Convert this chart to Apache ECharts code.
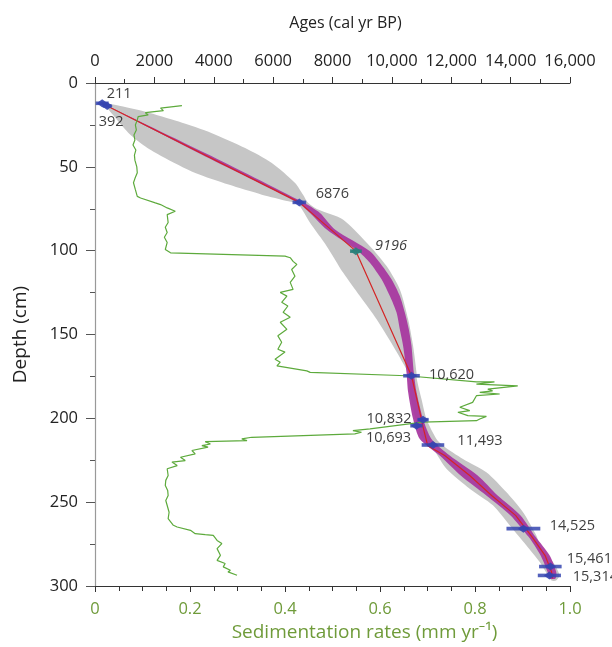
<!DOCTYPE html>
<html><head><meta charset="utf-8">
<script src="https://cdn.jsdelivr.net/npm/echarts@6/dist/echarts.min.js"></script>
<style>html,body{margin:0;padding:0;background:#fff}#c{width:612px;height:647px}</style>
</head><body><div id="c"></div>
<script>
// ---- Data ----
const ageTicks = [0, 2000, 4000, 6000, 8000, 10000, 12000, 14000, 16000];
const depthTicks = [0, 50, 100, 150, 200, 250, 300];
const rateTicks = [0, 0.2, 0.4, 0.6, 0.8, 1.0];

// dated levels (age position, depth, error, label)
const dateAges   = [242, 410, 6883, 8789, 10661, 11050, 10829, 11384, 14430, 15338, 15305];
const dateDepths = [12.1, 13.7, 71.2, 100.3, 174.6, 200.8, 204.4, 215.9, 265.8, 288.4, 293.7];
const dateErrors = [220, 150, 230, 200, 280, 190, 210, 380, 570, 380, 390];
const dateLabels = ['211', '392', '6876', '9196', '10,620', '10,832', '10,693', '11,493', '14,525', '15,461', '15,314'];

// confidence envelope (grey): younger and older bounds
const greyYoungAge   = [185, 464, 1136, 1697, 2259, 3378, 4497, 5620, 6514, 6850, 7243, 7804, 8362, 8923, 9485, 10043, 10493, 10604, 10604, 10772, 10940, 11051, 11387, 11838, 12621, 13404, 13965, 14526, 14973, 15252, 15377];
const greyYoungDepth = [11.3, 16.1, 29.9, 37.9, 43.8, 53.7, 60.6, 66.6, 70.6, 72.5, 83.4, 97.3, 113.2, 127.1, 140.9, 156.8, 170.7, 174.6, 184.3, 198.6, 208.1, 212.3, 218.2, 230.1, 242.0, 251.9, 263.8, 275.7, 285.6, 293.6, 296.7];
const greyOldAge     = [185, 857, 1697, 2817, 3939, 5058, 5956, 6739, 7008, 7176, 7512, 8362, 9260, 9821, 10268, 10547, 10715, 10829, 10839, 10997, 11165, 11501, 11723, 12395, 13182, 13854, 14412, 14862, 15084, 15420, 15645, 15534];
const greyOldDepth   = [11.3, 13.7, 17.1, 23.0, 29.9, 38.8, 47.7, 59.6, 66.6, 71.4, 75.5, 81.5, 97.3, 109.2, 123.1, 140.9, 156.8, 172.6, 176.6, 188.5, 200.4, 212.3, 216.3, 224.2, 232.1, 244.0, 255.9, 269.8, 279.6, 285.6, 293.6, 296.7];

// model band (magenta)
const bandDepth    = [11.9, 42.2, 71.0, 77.5, 87.4, 100.3, 107.2, 117.1, 127.1, 136.9, 146.9, 156.8, 172.6, 184.3, 200.4, 212.3, 222.2, 234.1, 246.0, 257.9, 270.7, 281.7, 291.5, 295.5];
const bandYoungAge = [218, 3540, 6790, 7243, 7804, 8867, 9260, 9653, 9932, 10157, 10268, 10379, 10493, 10547, 10715, 10940, 11612, 12318, 13182, 13998, 14604, 15007, 15242, 15310];
const bandOldAge   = [218, 3760, 6990, 7579, 8083, 9260, 9596, 9989, 10268, 10436, 10570, 10661, 10739, 10829, 11051, 11333, 11948, 12889, 13562, 14334, 14839, 15310, 15534, 15511];

// age-depth line (red)
const modelAge   = [242, 410, 6883, 8789, 10661, 10940, 11041, 11209, 11780, 12621, 13360, 14167, 14721, 15158, 15377, 15411];
const modelDepth = [12.1, 13.7, 71.2, 100.3, 174.6, 196.2, 204.5, 216.4, 222.2, 234.1, 246.0, 257.9, 270.7, 281.7, 291.5, 295.5];

// sedimentation rates (green)
const rateDepth = [13.5,15.0,16.5,17.7,19.0,20.0,22.0,25,28,31,34,37,40,43,46,50,53.5,57,59.5,63.6,67.6,68.6,71.5,72.5,74.5,76.5,78.5,83.2,86,89.2,92,95.1,99.3,101.3,103.3,104.2,106.4,108.2,111.2,115.2,118.9,123.1,124.9,127.1,130.8,133.0,136.8,139.7,142.7,146.9,150.8,154.6,158.8,160.5,164.7,166.5,168.7,171.7,172.6,174.6,178.2,178.2,179.6,180.6,182.6,183.6,184.5,185.5,186.5,190.5,193.4,195.4,196.4,198.4,198.8,200.4,201.4,202.3,206.3,207.3,208.3,209.3,211.3,212.3,213.3,213.9,215.3,216.3,217.2,219.2,221.2,223.2,225.2,226.1,228.2,230.1,234.1,237,240.1,243,246.0,249,252.0,256,259.8,263.8,264.8,266.8,268.8,269.4,269.8,272.8,274.7,277.7,281.7,284.7,286.6,288.6,290.6,291.6,293.6];
const rateValue = [0.183,0.138,0.144,0.106,0.112,0.091,0.089,0.085,0.087,0.082,0.084,0.080,0.086,0.083,0.084,0.088,0.089,0.084,0.081,0.085,0.089,0.096,0.127,0.138,0.152,0.169,0.152,0.154,0.148,0.152,0.146,0.152,0.148,0.159,0.400,0.411,0.417,0.425,0.414,0.421,0.411,0.417,0.390,0.404,0.393,0.406,0.396,0.411,0.390,0.404,0.385,0.393,0.385,0.400,0.379,0.390,0.383,0.446,0.453,0.656,0.803,0.841,0.803,0.890,0.827,0.837,0.810,0.852,0.803,0.795,0.768,0.789,0.764,0.785,0.824,0.810,0.803,0.690,0.579,0.543,0.561,0.547,0.330,0.309,0.320,0.232,0.243,0.225,0.238,0.204,0.211,0.180,0.190,0.162,0.173,0.152,0.154,0.149,0.148,0.153,0.154,0.149,0.152,0.156,0.154,0.165,0.173,0.201,0.211,0.232,0.249,0.257,0.267,0.257,0.264,0.257,0.274,0.270,0.285,0.280,0.299];

// ---- Styling / layout (not data) ----
const FONT = '"Open Sans", "Noto Sans", sans-serif';
const GREEN_TEXT = '#6f9b3a';
const labelOffsets = [[17,-9],[4,16],[33,-9],[35,-5],[40,-1],[-34,-1],[-28,12],[47,-4],[49,-3],[39,-8],[46,1]];
const markerColors = dateLabels.map(l => l === '9196' ? '#2a7f7a' : '#3545b0');

function fmtAge(v) { return v >= 10000 ? (v/1000).toFixed(0) + ',000' : String(v); }

function polygonSeries(aA, dA, aB, dB, fill, z) {
  return {
    type: 'custom', coordinateSystem: 'cartesian2d', xAxisIndex: 0, yAxisIndex: 0,
    silent: true, z: z, clip: false,
    data: [[aA[0], dA[0]]],
    renderItem: function (params, api) {
      const pts = [];
      for (let i = 0; i < aA.length; i++) pts.push(api.coord([aA[i], dA[i]]));
      for (let i = aB.length - 1; i >= 0; i--) pts.push(api.coord([aB[i], dB[i]]));
      return { type: 'polygon', shape: { points: pts, smooth: 0.25 }, style: { fill: fill } };
    }
  };
}

const chart = echarts.init(document.getElementById('c'), null, { renderer: 'canvas' });
chart.setOption({
  animation: false,
  backgroundColor: '#fff',
  textStyle: { fontFamily: FONT },
  grid: { left: 95, right: 42, top: 83, bottom: 59.5 },
  xAxis: [
    {
      type: 'value', position: 'top', min: ageTicks[0], max: ageTicks[ageTicks.length-1], interval: 2000,
      axisLine: { show: true, onZero: false, lineStyle: { color: '#333', width: 1 } },
      axisTick: { show: true, inside: false, length: 6, lineStyle: { color: '#333' } },
      minorTick: { show: true, splitNumber: 2, length: 4, lineStyle: { color: '#333' } },
      splitLine: { show: false },
      axisLabel: { formatter: fmtAge, color: '#222', fontSize: 16.5, margin: 13, fontFamily: FONT },
      name: 'Ages (cal yr BP)', nameLocation: 'middle', nameGap: 52,
      nameTextStyle: { fontSize: 16, color: '#222', fontFamily: FONT, padding: [0, 0, 0, 26] }
    },
    {
      type: 'value', position: 'bottom', min: rateTicks[0], max: rateTicks[rateTicks.length-1], interval: 0.2,
      axisLine: { show: true, onZero: false, lineStyle: { color: '#333', width: 1 } },
      axisTick: { show: true, inside: false, length: 6, lineStyle: { color: '#333' } },
      minorTick: { show: true, splitNumber: 4, length: 5, lineStyle: { color: '#333' } },
      splitLine: { show: false },
      axisLabel: { formatter: v => v === 0 ? '0' : v.toFixed(1), color: GREEN_TEXT, fontSize: 16.5, margin: 15, fontFamily: FONT },
      name: 'Sedimentation rates (mm yr\u207B\u00B9)', nameLocation: 'middle', nameGap: 37,
      nameTextStyle: { fontSize: 19, color: GREEN_TEXT, fontFamily: FONT, padding: [0, 0, 0, 64] }
    }
  ],
  yAxis: {
    type: 'value', inverse: true, min: depthTicks[0], max: depthTicks[depthTicks.length-1], interval: 50,
    axisLine: { show: true, onZero: false, lineStyle: { color: '#999', width: 1.2 } },
    axisTick: { show: true, inside: false, length: 9, lineStyle: { color: '#555' } },
    minorTick: { show: true, splitNumber: 2, length: 5, lineStyle: { color: '#555' } },
    splitLine: { show: false },
    axisLabel: { color: '#222', fontSize: 16.5, margin: 17, fontFamily: FONT },
    name: 'Depth (cm)', nameLocation: 'middle', nameGap: 65,
    nameTextStyle: { fontSize: 19, color: '#222', fontFamily: FONT }
  },
  series: [
    polygonSeries(greyYoungAge, greyYoungDepth, greyOldAge, greyOldDepth, '#c6c6c6', 1),
    polygonSeries(bandYoungAge, bandDepth, bandOldAge, bandDepth, 'rgba(166,52,158,0.92)', 2),
    {
      type: 'line', xAxisIndex: 0, yAxisIndex: 0, z: 3, silent: true,
      data: modelAge.map((a, i) => [a, modelDepth[i]]),
      showSymbol: false, lineStyle: { color: '#d42525', width: 1.2 }
    },
    {
      type: 'line', xAxisIndex: 1, yAxisIndex: 0, z: 4, silent: true,
      data: rateValue.map((r, i) => [r, rateDepth[i]]),
      showSymbol: false, lineStyle: { color: '#5daa3c', width: 1.2 }
    },
    {
      type: 'custom', coordinateSystem: 'cartesian2d', xAxisIndex: 0, yAxisIndex: 0, z: 5, silent: true, clip: false,
      data: dateAges.map((a, i) => [a, dateDepths[i], dateErrors[i]]),
      renderItem: function (params, api) {
        const p1 = api.coord([api.value(0) - api.value(2), api.value(1)]);
        const p2 = api.coord([api.value(0) + api.value(2), api.value(1)]);
        return { type: 'rect', shape: { x: p1[0], y: p1[1] - 1.8, width: p2[0] - p1[0], height: 3.6 },
                 style: { fill: markerColors[params.dataIndex], opacity: 0.85 } };
      }
    },
    {
      type: 'scatter', xAxisIndex: 0, yAxisIndex: 0, z: 6, silent: true,
      symbol: 'diamond', symbolSize: [11, 8],
      data: dateAges.map((a, i) => ({
        value: [a, dateDepths[i]],
        itemStyle: { color: markerColors[i], opacity: 0.9 },
        label: {
          show: true, position: 'inside', offset: labelOffsets[i],
          formatter: dateLabels[i], color: '#2a2a2a', fontSize: 14.5, fontFamily: FONT,
          fontStyle: dateLabels[i] === '9196' ? 'italic' : 'normal'
        }
      }))
    }
  ]
});
</script></body></html>
